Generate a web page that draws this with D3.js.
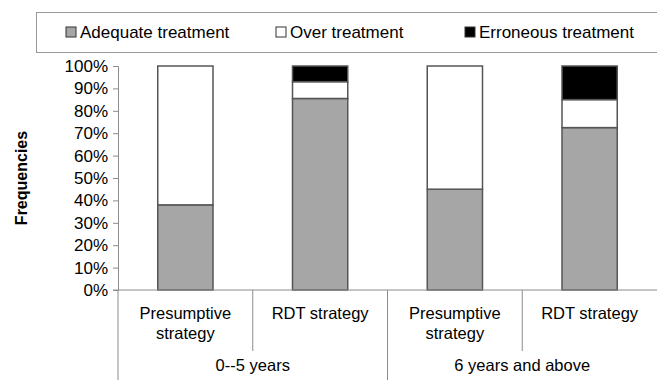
<!DOCTYPE html>
<html>
<head>
<meta charset="utf-8">
<script src="https://cdn.jsdelivr.net/npm/d3@7"></script>
<style>
  body { margin: 0; background: #fff; }
  svg { display: block; font-family: "Liberation Sans", Arial, sans-serif; }
</style>
</head>
<body>
<svg width="657" height="380"></svg>
<script>
const groups = ["0--5 years", "6 years and above"];
const strategies = [["Presumptive", "strategy"], ["RDT strategy"]];
const seriesNames = ["Adequate treatment", "Over treatment", "Erroneous treatment"];
const adequate = [38, 85.5, 45, 72.5];
const over = [62, 7.5, 55, 12.5];
const erroneous = [0, 7, 0, 15];
const yTicks = [0, 10, 20, 30, 40, 50, 60, 70, 80, 90, 100];

const colors = ["#a6a6a6", "#ffffff", "#000000"];
const width = 657;
const height = 380;
const margin = { top: 66, left: 118, right: 0, bottom: 90 };

const svg = d3.select("svg");

// one row per bar
let data = [];
adequate.forEach((v, i) => {
  data.push({
    key: i,
    "Adequate treatment": v,
    "Over treatment": over[i],
    "Erroneous treatment": erroneous[i]
  });
});

const xScale = d3
  .scaleBand()
  .domain(data.map(d => d.key))
  .range([margin.left, width - margin.right])
  .paddingInner(0.59)
  .paddingOuter(0.295);

const yScale = d3
  .scaleLinear()
  .domain([0, 100])
  .range([290, margin.top]);

const stack = d3.stack().keys(seriesNames);
const stacked = stack(data);

// bars
svg
  .append("g")
  .selectAll("g")
  .data(stacked)
  .join("g")
  .attr("fill", (d, i) => colors[i])
  .selectAll("rect")
  .data(d => d.filter(s => s[1] - s[0] > 0))
  .join("rect")
  .attr("x", d => xScale(d.data.key))
  .attr("width", xScale.bandwidth())
  .attr("y", d => yScale(d[1]))
  .attr("height", d => yScale(d[0]) - yScale(d[1]))
  .attr("stroke", "#555")
  .attr("stroke-width", 1.5);

// y axis
const yAxis = d3
  .axisLeft(yScale)
  .tickValues(yTicks)
  .tickFormat(d => d + "%")
  .tickSize(5)
  .tickPadding(5);

const yG = svg
  .append("g")
  .attr("transform", `translate(${margin.left}, 0)`)
  .call(yAxis);
yG.selectAll("path, line").attr("stroke", "#8c8c8c");
yG.selectAll("text").attr("font-size", 17).attr("fill", "#000").attr("font-family", null);

// baseline
svg
  .append("line")
  .attr("x1", margin.left - 5)
  .attr("x2", width)
  .attr("y1", yScale(0))
  .attr("y2", yScale(0))
  .attr("stroke", "#8c8c8c");

// category axis: separators and labels
const step = xScale.step();
data.forEach((d, i) => {
  const left = xScale(d.key) - step * 0.295;
  const isGroupStart = i % 2 === 0;
  svg
    .append("line")
    .attr("x1", left)
    .attr("x2", left)
    .attr("y1", yScale(0))
    .attr("y2", isGroupStart ? height : 351)
    .attr("stroke", "#8c8c8c");

  const lines = strategies[i % 2];
  const t = svg
    .append("text")
    .attr("x", xScale(d.key) + xScale.bandwidth() / 2)
    .attr("y", 319)
    .attr("text-anchor", "middle")
    .attr("font-size", 16.5);
  lines.forEach((l, j) => {
    t.append("tspan")
      .attr("x", xScale(d.key) + xScale.bandwidth() / 2)
      .attr("dy", j === 0 ? 0 : 20)
      .text(l);
  });
});

groups.forEach((g, gi) => {
  const x0 = xScale(data[gi * 2].key);
  const x1 = xScale(data[gi * 2 + 1].key) + xScale.bandwidth();
  svg
    .append("text")
    .attr("x", (x0 + x1) / 2)
    .attr("y", 371)
    .attr("text-anchor", "middle")
    .attr("font-size", 16.5)
    .text(g);
});

// y title
svg
  .append("text")
  .attr("transform", `translate(27, ${yScale(50)}) rotate(-90)`)
  .attr("text-anchor", "middle")
  .attr("font-size", 16)
  .attr("font-weight", "bold")
  .text("Frequencies");

// legend
svg
  .append("rect")
  .attr("x", 36.5)
  .attr("y", 12.5)
  .attr("width", 640)
  .attr("height", 40)
  .attr("fill", "#fff")
  .attr("stroke", "#999")
  .attr("stroke-width", 1);

const legendX = [66, 276, 465];
seriesNames.forEach((name, i) => {
  const lg = svg.append("g").attr("transform", `translate(${legendX[i]}, 32)`);
  lg.append("rect")
    .attr("x", 0)
    .attr("y", -5)
    .attr("width", 10)
    .attr("height", 10)
    .attr("fill", colors[i])
    .attr("stroke", "#333")
    .attr("stroke-width", 1);
  lg.append("text")
    .attr("x", 14)
    .attr("y", 6)
    .attr("font-size", 17)
    .text(name);
});
</script>
</body>
</html>
